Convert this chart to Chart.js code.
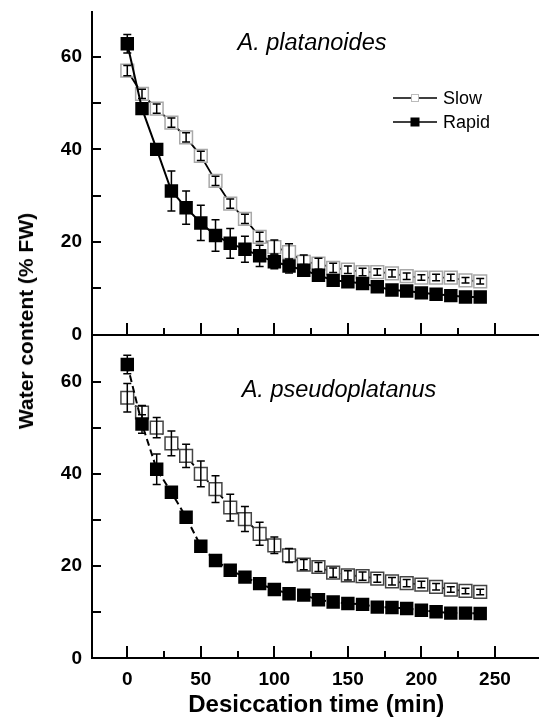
<!DOCTYPE html>
<html lang="en">
<head>
<meta charset="UTF-8" />
<title>Water content during desiccation</title>
<style>
  html, body { margin: 0; background: #fff; overflow: hidden; }
  #wrap { position: relative; width: 539px; height: 720px; overflow: hidden; font-family: "Liberation Sans", Arial, sans-serif; }
  #top { position: absolute; left: 0; top: 0; }
  #bottom { position: absolute; left: 0; top: 325px; }
  #ytitle { position: absolute; left: 26px; top: 321px; transform: translate(-50%, -50%) rotate(-90deg);
            font-weight: bold; font-size: 21px; white-space: nowrap; color: #000; }
</style>
</head>
<body>
<div id="wrap">
  <canvas id="top" width="551" height="345"></canvas>
  <canvas id="bottom" width="551" height="395"></canvas>
  <div id="ytitle">Water content (% FW)</div>
</div>

<script src="https://cdn.jsdelivr.net/npm/chart.js@4.4.0/dist/chart.umd.min.js"></script>
<script>
// desiccation time (min)
const time = [0, 10, 20, 30, 40, 50, 60, 70, 80, 90, 100, 110, 120, 130, 140, 150, 160, 170, 180, 190, 200, 210, 220, 230, 240];

// A. platanoides
const platSlow     = [57.0, 52.0, 48.8, 45.8, 42.6, 38.6, 33.2, 28.3, 25.0, 21.1, 18.9, 17.8, 15.7, 15.3, 14.4, 14.0, 13.5, 13.5, 13.2, 12.6, 12.3, 12.3, 12.3, 11.7, 11.5];
const platSlowErr  = [1.1, 1.0, 1.0, 1.0, 1.0, 1.0, 1.0, 1.0, 1.0, 1.0, 1.5, 1.8, 1.5, 1.2, 1.0, 0.8, 0.8, 0.7, 0.8, 0.7, 0.6, 0.7, 0.7, 0.6, 0.6];
const platRapid    = [62.8, 48.8, 40.0, 31.0, 27.4, 24.1, 21.4, 19.7, 18.4, 17.0, 15.7, 14.8, 13.9, 12.8, 11.7, 11.4, 11.0, 10.3, 9.6, 9.4, 9.0, 8.7, 8.4, 8.1, 8.1];
const platRapidErr = [2.0, 1.0, 1.0, 4.3, 3.6, 3.8, 3.4, 3.2, 2.8, 2.3, 1.5, 1.5, 1.2, 1.0, 1.0, 0.8, 0.8, 0.8, 0.6, 0.6, 0.6, 0.6, 0.5, 0.5, 0.5];

// A. pseudoplatanus
const pseudoSlow     = [56.5, 53.3, 50.0, 46.6, 43.9, 40.0, 36.7, 32.7, 30.2, 27.0, 24.5, 22.3, 20.3, 19.8, 18.6, 18.0, 17.8, 17.3, 16.7, 16.3, 16.0, 15.5, 14.9, 14.6, 14.4];
const pseudoSlowErr  = [3.1, 1.5, 2.2, 2.7, 2.5, 2.8, 2.9, 2.9, 2.7, 2.5, 1.8, 1.5, 1.1, 1.0, 1.0, 1.0, 0.9, 0.8, 0.8, 0.8, 0.7, 0.7, 0.6, 0.6, 0.6];
const pseudoRapid    = [63.7, 50.8, 41.0, 36.0, 30.6, 24.3, 21.2, 19.1, 17.6, 16.2, 14.9, 14.0, 13.7, 12.7, 12.2, 11.9, 11.7, 11.1, 11.0, 10.8, 10.4, 10.1, 9.8, 9.8, 9.7];
const pseudoRapidErr = [2.0, 2.0, 3.3, 0.8, 0.6, 1.0, 0.5, 0.5, 0.5, 0.5, 0.5, 0.5, 0.5, 0.5, 0.5, 0.5, 0.5, 0.5, 0.5, 0.5, 0.5, 0.5, 0.5, 0.5, 0.5];

// axis ticks
const xTicks = [0, 25, 50, 75, 100, 125, 150, 175, 200, 225, 250];
const xLabelTicks = [0, 50, 100, 150, 200, 250];
const yTicks = [0, 10, 20, 30, 40, 50, 60];
const yLabelTicks = [0, 20, 40, 60];

const FONT = '"Liberation Sans", Arial, sans-serif';

// error bars, axis lines with inward ticks, panel title and legend
const decor = {
  id: 'decor',
  afterDatasetsDraw(chart, args, opts) {
    const { ctx, scales: { x, y } } = chart;
    ctx.save();
    ctx.strokeStyle = '#000';
    ctx.lineWidth = 1.5;
    chart.data.datasets.forEach(ds => {
      ds.data.forEach((p, i) => {
        const e = ds.errors[i];
        const xp = x.getPixelForValue(p.x);
        const y1 = y.getPixelForValue(p.y + e);
        const y2 = y.getPixelForValue(p.y - e);
        ctx.beginPath();
        ctx.moveTo(xp, y1); ctx.lineTo(xp, y2);
        ctx.moveTo(xp - 4, y1); ctx.lineTo(xp + 4, y1);
        ctx.moveTo(xp - 4, y2); ctx.lineTo(xp + 4, y2);
        ctx.stroke();
      });
    });
    ctx.restore();
  },
  afterDraw(chart, args, opts) {
    const { ctx, scales: { x, y } } = chart;
    const left = Math.round(x.getPixelForValue(x.min));
    const base = Math.round(y.getPixelForValue(0));
    const top = Math.round(y.getPixelForValue(y.max));
    ctx.save();
    ctx.fillStyle = '#000';
    // axis lines
    ctx.fillRect(left - 1, top, 2, base - top + 1);
    ctx.fillRect(left - 1, base - 1, chart.width - left + 1, 2);
    // inward ticks
    xTicks.forEach(v => {
      const xp = Math.round(x.getPixelForValue(v));
      const len = v % 50 === 0 ? 12 : 7;
      ctx.fillRect(xp - 1, base - len, 2, len);
    });
    yTicks.forEach(v => {
      const yp = Math.round(y.getPixelForValue(v));
      ctx.fillRect(left, yp - 1, 9, 2);
    });

    // panel title
    ctx.font = 'italic 23.5px ' + FONT;
    ctx.textAlign = 'center';
    ctx.textBaseline = 'alphabetic';
    ctx.fillText(opts.title, opts.titleX, opts.titleY);

    // legend
    if (opts.legend) {
      const lx = 393, tx = 443;
      let ly = 98;
      ['Slow', 'Rapid'].forEach(name => {
        const ds = chart.data.datasets.find(d => d.label === name);
        ctx.fillStyle = '#000';
        ctx.fillRect(lx, ly - 0.75, 44, 1.5);
        if (name === 'Slow') {
          ctx.fillStyle = '#fff';
          ctx.fillRect(lx + 18.5, ly - 3.5, 7, 7);
          ctx.strokeStyle = '#bbb';
          ctx.lineWidth = 1;
          ctx.strokeRect(lx + 18.5, ly - 3.5, 7, 7);
        } else {
          ctx.fillRect(lx + 17.5, ly - 4.5, 9, 9);
        }
        ctx.fillStyle = '#000';
        ctx.font = '18px ' + FONT;
        ctx.textAlign = 'left';
        ctx.textBaseline = 'middle';
        ctx.fillText(ds.label, tx, ly + 1);
        ly += 24;
      });
    }
    ctx.restore();
  }
};

function pts(vals) {
  return time.map((t, i) => ({ x: t, y: vals[i] }));
}

function noPad(s) {
  s.paddingTop = 0; s.paddingBottom = 0; s.paddingLeft = 0; s.paddingRight = 0;
}

function makeChart(id, slow, slowErr, rapid, rapidErr, panel) {
  return new Chart(document.getElementById(id), {
    type: 'line',
    data: {
      datasets: [
        {
          label: 'Rapid', data: pts(rapid), errors: rapidErr, order: 0,
          borderColor: '#000', borderWidth: 2, borderDash: panel.dash,
          pointStyle: 'rect', pointRadius: 9.5, pointHoverRadius: 9.5,
          pointBackgroundColor: '#000', pointBorderColor: '#000', pointBorderWidth: 0
        },
        {
          label: 'Slow', data: pts(slow), errors: slowErr, order: 1,
          borderColor: '#000', borderWidth: 1.8, borderDash: panel.dash,
          pointStyle: 'rect', pointRadius: 9, pointHoverRadius: 9,
          pointBackgroundColor: '#fff', pointBorderColor: panel.slowEdge, pointBorderWidth: 1.5
        }
      ]
    },
    options: {
      responsive: false,
      animation: false,
      events: [],
      layout: { padding: { top: panel.padTop, left: 0, right: 0, bottom: 0 } },
      plugins: {
        legend: { display: false },
        tooltip: { enabled: false },
        decor: { title: panel.title, titleX: panel.titleX, titleY: panel.titleY, legend: panel.legend }
      },
      scales: {
        x: {
          type: 'linear', min: -24, max: 281,
          afterBuildTicks: s => { s.ticks = xLabelTicks.map(v => ({ value: v })); },
          afterFit: s => { s.height = panel.xHeight; noPad(s); },
          grid: { drawOnChartArea: false, drawTicks: false },
          border: { display: false },
          ticks: { display: panel.xLabels, padding: 10, color: '#000', maxRotation: 0,
                   font: { family: FONT, size: 19, weight: 'bold' } },
          title: { display: panel.xLabels, text: 'Desiccation time (min)', color: '#000',
                   padding: { top: 0, bottom: 0.5 }, font: { family: FONT, size: 24, weight: 'bold' } }
        },
        y: {
          min: 0, max: 70,
          afterBuildTicks: s => { s.ticks = yLabelTicks.map(v => ({ value: v })); },
          afterFit: s => { s.width = 92; noPad(s); },
          grid: { drawOnChartArea: false, drawTicks: false },
          border: { display: false },
          ticks: { padding: 10, color: '#000', font: { family: FONT, size: 19, weight: 'bold' } }
        }
      }
    },
    plugins: [decor]
  });
}

makeChart('top', platSlow, platSlowErr, platRapid, platRapidErr, {
  title: 'A. platanoides', titleX: 312, titleY: 50,
  dash: [], slowEdge: '#a8a8a8', legend: true,
  padTop: 10, xHeight: 10.5, xLabels: false
});

makeChart('bottom', pseudoSlow, pseudoSlowErr, pseudoRapid, pseudoRapidErr, {
  title: 'A. pseudoplatanus', titleX: 339, titleY: 72,
  dash: [7, 4], slowEdge: '#444', legend: false,
  padTop: 9, xHeight: 61.7, xLabels: true
});
</script>
</body>
</html>
